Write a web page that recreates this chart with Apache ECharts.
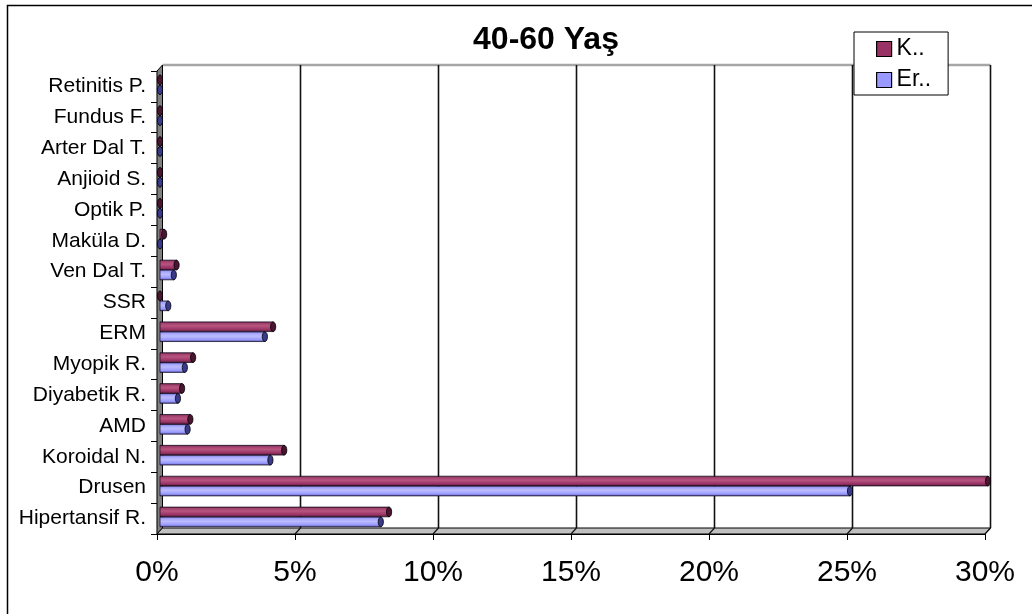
<!DOCTYPE html>
<html>
<head>
<meta charset="utf-8">
<title>40-60 Yaş</title>
<script src="https://cdn.jsdelivr.net/npm/echarts@6/dist/echarts.min.js"></script>
<style>
  html, body { margin: 0; padding: 0; background: #fff; }
  #chart { width: 1032px; height: 614px; }
</style>
</head>
<body>
<div id="chart"></div>
<script>
// Categories, listed from the bottom row of the chart to the top row
const categories = [
  'Hipertansif R.', 'Drusen', 'Koroidal N.', 'AMD', 'Diyabetik R.',
  'Myopik R.', 'ERM', 'SSR', 'Ven Dal T.', 'Maküla D.',
  'Optik P.', 'Anjioid S.', 'Arter Dal T.', 'Fundus F.', 'Retinitis P.'
];
// Percentages per group
const kadinValues = [8.3, 30, 4.5, 1.1, 0.8, 1.2, 4.1, 0, 0.6, 0.15, 0, 0, 0, 0, 0];
const erkekValues = [8.0, 25, 4.0, 1.0, 0.65, 0.9, 3.8, 0.3, 0.5, 0, 0, 0, 0, 0, 0];
const seriesNames = ['K..', 'Er..'];
const xTicks = [0, 5, 10, 15, 20, 25, 30];

const DEPTH = [5.5, -6];           // offset of the back wall
const FONT = 'Liberation Sans, Arial, sans-serif';

// Cylinder-like horizontal bar with a dark end cap
function cylinder(slot, grad, capColor) {
  return function (params, api) {
    const v = api.value(0), idx = api.value(1);
    const a = api.coord([0, idx]);
    const b = api.coord([v, idx]);
    const band = api.size([0, 1])[1];
    const t = band * 0.315;
    const y0 = a[1] + (slot === 0 ? -0.372 : -0.05) * band;
    const x0 = a[0] + 3, x1 = b[0] + 3;
    return {
      type: 'group',
      children: [
        {
          type: 'rect',
          shape: { x: x0, y: y0, width: Math.max(0, x1 - x0), height: t },
          style: {
            fill: new echarts.graphic.LinearGradient(0, 0, 0, 1, grad),
            stroke: 'rgba(20,10,30,0.75)', lineWidth: 1
          }
        },
        {
          type: 'ellipse',
          shape: { cx: x1, cy: y0 + t / 2, rx: 2.6, ry: t / 2 },
          style: { fill: capColor, stroke: 'rgba(0,0,0,0.8)', lineWidth: 1 }
        }
      ]
    };
  };
}

// Back wall, side wall, floor and the value grid lines
function frame(params, api) {
  const cs = params.coordSys;
  const L = cs.x, R = cs.x + cs.width, T = cs.y, B = cs.y + cs.height;
  const dx = DEPTH[0], dy = DEPTH[1];
  const kids = [
    { type: 'polygon', shape: { points: [[L + dx, T + dy], [R + dx, T + dy], [R + dx, B + dy], [L + dx, B + dy]] },
      style: { fill: '#fff', stroke: null } },
    { type: 'line', shape: { x1: L + dx, y1: T + dy, x2: R + dx, y2: T + dy },
      style: { stroke: '#a6a6a6', lineWidth: 2.5 } },
    { type: 'polygon', shape: { points: [[L, T], [L + dx, T + dy], [L + dx, B + dy], [L, B]] },
      style: { fill: '#808080', stroke: '#000', lineWidth: 1 } },
    { type: 'polygon', shape: { points: [[L, B], [L + dx, B + dy], [R + dx, B + dy], [R, B]] },
      style: { fill: '#c0c0c0', stroke: '#000', lineWidth: 1 } }
  ];
  xTicks.forEach(function (v) {
    if (v === 0) return;
    const x = api.coord([v, 0])[0];
    kids.push({ type: 'line', shape: { x1: x + dx, y1: T + dy, x2: x + dx, y2: B + dy },
      style: { stroke: '#111', lineWidth: 1.6 } });
    kids.push({ type: 'line', shape: { x1: x, y1: B, x2: x + dx, y2: B + dy },
      style: { stroke: '#111', lineWidth: 1.2 } });
  });
  return { type: 'group', children: kids };
}

const kGrad = [
  { offset: 0, color: '#5a1f3c' }, { offset: 0.18, color: '#a3416f' },
  { offset: 0.42, color: '#b7557f' }, { offset: 0.75, color: '#993366' },
  { offset: 1, color: '#4d1a33' }
];
const eGrad = [
  { offset: 0, color: '#6464b8' }, { offset: 0.2, color: '#a6a6ff' },
  { offset: 0.45, color: '#bcbcff' }, { offset: 0.78, color: '#9999ff' },
  { offset: 1, color: '#4a4a99' }
];

const chart = echarts.init(document.getElementById('chart'), null, { renderer: 'canvas' });
chart.setOption({
  animation: false,
  backgroundColor: '#fff',
  title: {
    text: '40-60 Yaş', left: 541, top: 19, textAlign: 'center',
    textStyle: { fontFamily: FONT, fontSize: 32, fontWeight: 'bold', color: '#000' }
  },
  legend: {
    data: seriesNames, orient: 'vertical', left: 854, top: 32,
    padding: [5, 17, 3, 22], itemGap: 7,
    itemWidth: 15, itemHeight: 15, icon: 'rect',
    backgroundColor: '#fff', borderColor: '#000', borderWidth: 1,
    itemStyle: { borderColor: '#000', borderWidth: 1.2 },
    textStyle: { fontFamily: FONT, fontSize: 23, color: '#000', lineHeight: 24 },
    z: 10
  },
  grid: { left: 157, right: 47, top: 71, bottom: 80, containLabel: false },
  xAxis: {
    type: 'value', min: 0, max: 30, interval: 5,
    axisLine: { show: true, lineStyle: { color: '#000', width: 1.2 } },
    axisTick: { show: true, length: 6, lineStyle: { color: '#000' } },
    splitLine: { show: false },
    axisLabel: { formatter: '{value}%', fontFamily: FONT, fontSize: 30, color: '#000', margin: 24 }
  },
  yAxis: {
    type: 'category', data: categories,
    axisLine: { show: true, lineStyle: { color: '#000', width: 1.2 } },
    axisTick: { show: true, length: 6, lineStyle: { color: '#000' } },
    axisLabel: { fontFamily: FONT, fontSize: 21, color: '#000', margin: 11 }
  },
  series: [
    { type: 'custom', name: 'frame', renderItem: frame, data: [[0, 0]], z: 1, silent: true,
      encode: { x: 0, y: 1 } },
    { type: 'custom', name: seriesNames[0], renderItem: cylinder(0, kGrad, '#4a1530'),
      itemStyle: { color: '#993366' }, z: 3, encode: { x: 0, y: 1 },
      data: kadinValues.map(function (v, i) { return [v, i]; }) },
    { type: 'custom', name: seriesNames[1], renderItem: cylinder(1, eGrad, '#3a3a8a'),
      itemStyle: { color: '#9999ff' }, z: 3, encode: { x: 0, y: 1 },
      data: erkekValues.map(function (v, i) { return [v, i]; }) }
  ],
  graphic: [
    { type: 'rect', shape: { x: 7.5, y: 5.5, width: 1100, height: 700 },
      style: { fill: null, stroke: '#000', lineWidth: 1.5 }, z: 100, silent: true }
  ]
});
</script>
</body>
</html>
